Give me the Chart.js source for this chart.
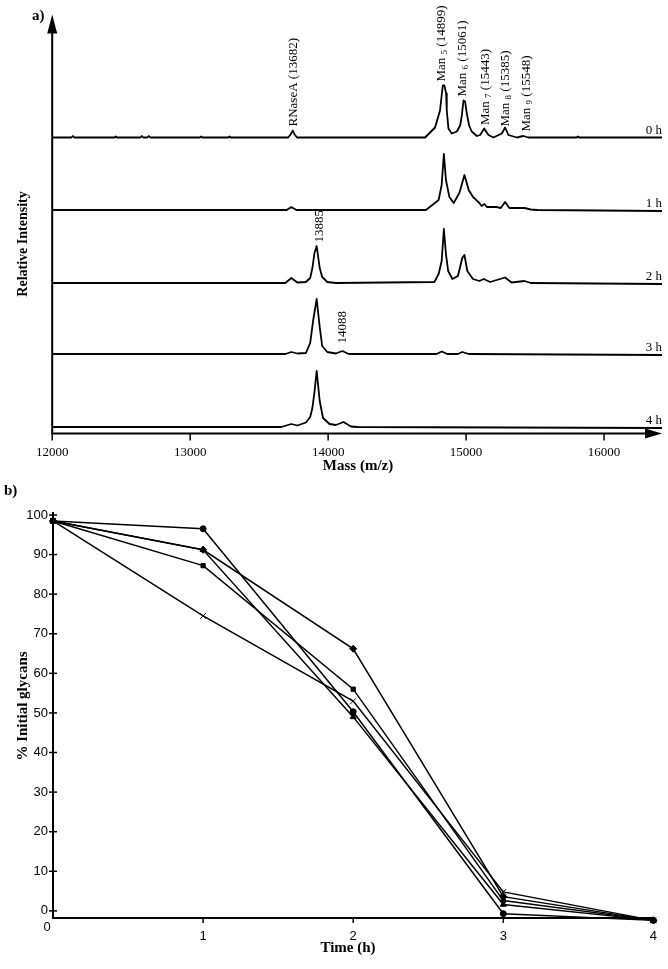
<!DOCTYPE html>
<html>
<head>
<meta charset="utf-8">
<script src="https://cdn.jsdelivr.net/npm/chart.js@4.4.1/dist/chart.umd.min.js"></script>
<style>
  html, body { margin: 0; padding: 0; background: #fff; }
  #wrap { position: relative; width: 668px; height: 969px; }
  #specChart { position: absolute; left: 0; top: 0; }
  #glyChart { position: absolute; left: 0; top: 480px; }
</style>
</head>
<body>
<div id="wrap">
  <canvas id="specChart" width="668" height="480"></canvas>
  <canvas id="glyChart" width="668" height="489"></canvas>
</div>
<script>
var serif = "'Liberation Serif', 'Times New Roman', serif";
var sans = "'Liberation Sans Narrow', 'Liberation Sans', Arial, sans-serif";

// ---- panel a: MALDI spectra, one trace per time point ----
var timeLabels = ["0 h", "1 h", "2 h", "3 h", "4 h"];
var baseOffsets = [296, 223.5, 150.5, 79.5, 6.5]; // stacking of the traces
var massTicks = [12000, 13000, 14000, 15000, 16000];

var mass0h = [12000, 12140, 12150, 12160, 12450, 12460, 12470, 12640, 12650, 12660, 12690, 12700, 12710,
  13070, 13080, 13090, 13275, 13285, 13295, 13710, 13728, 13744, 13757, 13775, 14703, 14775, 14811,
  14831, 14843, 14855, 14860, 14872, 14896, 14933, 14957, 14969, 14981, 14993, 15005, 15022, 15041,
  15078, 15102, 15131, 15162, 15198, 15259, 15283, 15307, 15368, 15415, 15452, 15540, 15800, 15810,
  15820, 16420];
var int0h = [0, 0, 1.5, 0, 0, 1, 0, 0, 1.5, 0, 0, 1.5, 0,
  0, 1, 0, 0, 1, 0, 0, 3, 7, 3, 0, 0, 10, 27,
  52, 52, 44, 27, 9, 4, 6, 12, 22, 37, 36, 24, 12, 6,
  1.5, 2.5, 9, 2.5, 0, 4, 10, 2.5, 0, 1.5, 0, 0, 0, 1,
  0, 0];

var mass1h = [12000, 13700, 13733, 13770, 14709, 14801, 14823, 14839, 14854, 14879, 14910, 14951, 14972,
  14988, 15009, 15019, 15050, 15096, 15112, 15133, 15150, 15174, 15220, 15251, 15283, 15314, 15423,
  15469, 15516, 16420];
var int1h = [0, 0, 3, 0, 0, 10, 25, 56, 30, 13, 7, 17, 27,
  35, 25, 20, 13, 7, 4, 6, 3, 3, 3, 2, 8, 2, 2,
  0.5, 0, -1];

var mass2h = [12000, 13690, 13733, 13777, 13839, 13870, 13886, 13901, 13917, 13939, 13957, 13994, 14056,
  14770, 14801, 14823, 14839, 14854, 14870, 14901, 14941, 14972, 14988, 15009, 15050, 15096, 15128,
  15174, 15283, 15329, 15423, 15469, 16420];
var int2h = [0, 0, 5, 0.5, 1, 5, 15, 30, 37, 15, 6, 1, 0,
  1, 9, 22, 54, 29, 12, 4, 7, 25, 28, 12, 4, 2, 4,
  1, 5.5, 0.5, 2, 0, -1];

var mass3h = [12000, 13690, 13733, 13777, 13839, 13870, 13892, 13917, 13939, 13957, 13994, 14056, 14103,
  14150, 14786, 14823, 14864, 14941, 14972, 15019, 16420];
var int3h = [0, 0, 2, 0.5, 1, 11, 34, 55, 27, 8, 2, 0.5, 3,
  0, 0, 2.5, 0, 0, 2, 0, -1];

var mass4h = [12000, 13661, 13733, 13777, 13839, 13870, 13886, 13901, 13917, 13939, 13963, 14010, 14056,
  14112, 14165, 14212, 16420];
var int4h = [0, 0, 3, 1.5, 4.5, 10, 19, 35, 56, 26, 9, 3, 2,
  5, 0.5, 0, -1];

var traceMasses = [mass0h, mass1h, mass2h, mass3h, mass4h];
var traceInts = [int0h, int1h, int2h, int3h, int4h];

// peak annotations (text pieces alternate normal / subscript)
var peakNotes = [
  { parts: ["RNaseA (13682)"], mass: 13746, y: 307 },
  { parts: ["Man ", "5", " (14899)"], mass: 14822, y: 352 },
  { parts: ["Man ", "6", " (15061)"], mass: 14975, y: 337 },
  { parts: ["Man ", "7", " (15443)"], mass: 15141, y: 308.5 },
  { parts: ["Man ", "8", " (15385)"], mass: 15286, y: 307 },
  { parts: ["Man ", "9", " (15548)"], mass: 15442, y: 302 },
  { parts: ["13885"], mass: 13938, y: 191 },
  { parts: ["14088"], mass: 14103, y: 90 }
];

function rotText(ctx, parts, x, y) {
  ctx.save();
  ctx.translate(x, y);
  ctx.rotate(-Math.PI / 2);
  ctx.textAlign = "left";
  ctx.textBaseline = "middle";
  var cx = 0;
  for (var i = 0; i < parts.length; i++) {
    if (i % 2 == 1) {
      ctx.font = "9px " + serif;
      ctx.fillText(parts[i], cx, 3);
    } else {
      ctx.font = "13px " + serif;
      ctx.fillText(parts[i], cx, 0);
    }
    cx += ctx.measureText(parts[i]).width;
  }
  ctx.restore();
}

var spectraDeco = {
  id: "spectraDeco",
  afterDraw: function (chart) {
    var ctx = chart.ctx;
    var xs = chart.scales.x, ys = chart.scales.y;
    var x0 = xs.getPixelForValue(xs.min);
    var y0 = ys.getPixelForValue(0);
    var top = chart.chartArea.top, right = chart.chartArea.right;
    ctx.save();
    ctx.strokeStyle = "#000";
    ctx.fillStyle = "#000";
    ctx.lineWidth = 2;
    ctx.beginPath();
    ctx.moveTo(x0, y0 + 1);
    ctx.lineTo(x0, top + 15);
    ctx.moveTo(x0 - 1, y0);
    ctx.lineTo(right - 15, y0);
    ctx.stroke();
    // arrow heads
    ctx.beginPath();
    ctx.moveTo(x0, top + 1);
    ctx.lineTo(x0 - 5, top + 20);
    ctx.lineTo(x0 + 5, top + 20);
    ctx.closePath();
    ctx.moveTo(right, y0);
    ctx.lineTo(right - 17, y0 - 5);
    ctx.lineTo(right - 17, y0 + 5);
    ctx.closePath();
    ctx.fill();
    // tick marks
    ctx.lineWidth = 1.5;
    massTicks.forEach(function (m) {
      var px = xs.getPixelForValue(m);
      ctx.beginPath();
      ctx.moveTo(px, y0);
      ctx.lineTo(px, y0 + 7);
      ctx.stroke();
    });
    // peak labels
    peakNotes.forEach(function (n) {
      rotText(ctx, n.parts, xs.getPixelForValue(n.mass), ys.getPixelForValue(n.y));
    });
    // time labels at the right end of each trace
    ctx.font = "13px " + serif;
    ctx.textAlign = "right";
    ctx.textBaseline = "alphabetic";
    timeLabels.forEach(function (t, i) {
      ctx.fillText(t, right, ys.getPixelForValue(baseOffsets[i] + 3.5));
    });
    // titles
    ctx.font = "bold 15px " + serif;
    ctx.textAlign = "left";
    ctx.fillText("a)", 32, 20);
    ctx.textAlign = "center";
    ctx.textBaseline = "middle";
    ctx.fillText("Mass (m/z)", 358, 466);
    ctx.save();
    ctx.translate(23, 244);
    ctx.rotate(-Math.PI / 2);
    ctx.font = "bold 14px " + serif;
    ctx.fillText("Relative Intensity", 0, 0);
    ctx.restore();
    ctx.restore();
  }
};

var specSets = [];
for (var i = 0; i < traceMasses.length; i++) {
  var pts = [];
  for (var j = 0; j < traceMasses[i].length; j++) {
    pts.push({ x: traceMasses[i][j], y: traceInts[i][j] + baseOffsets[i] });
  }
  specSets.push({ label: timeLabels[i], data: pts });
}

new Chart(document.getElementById("specChart"), {
  type: "line",
  data: { datasets: specSets },
  options: {
    responsive: false,
    animation: false,
    devicePixelRatio: 1,
    layout: { padding: { left: 52.2, right: 6, top: 13.5, bottom: 0 } },
    plugins: { legend: { display: false }, tooltip: { enabled: false } },
    elements: {
      point: { radius: 0 },
      line: { borderWidth: 1.8, borderColor: "#000", tension: 0, borderJoinStyle: "round" }
    },
    scales: {
      x: {
        type: "linear",
        min: 12000,
        max: 16420,
        afterBuildTicks: function (s) {
          s.ticks = massTicks.map(function (v) { return { value: v }; });
        },
        afterFit: function (s) { s.height = 46.5; },
        grid: { display: false, drawTicks: false },
        border: { display: false },
        ticks: {
          color: "#000", font: { family: serif, size: 13 }, padding: 11, maxRotation: 0, autoSkip: false,
          callback: function (v) { return String(v); }
        }
      },
      y: { display: false, min: 0, max: 420 }
    }
  },
  plugins: [spectraDeco]
});

// ---- panel b: glycan loss over time ----
var hours = [0, 1, 2, 3, 4];
var hourTicks = [1, 2, 3, 4];
var pctTicks = [0, 10, 20, 30, 40, 50, 60, 70, 80, 90, 100];
var glyCross = [98.5, 74.5, 53.0, 4.8, -2.4];
var glyCircle = [98.5, 96.5, 50.3, -0.7, -2.4];
var glyDiamond = [98.5, 91.2, 66.2, 3.6, -2.4];
var glyTriangle = [98.5, 91.2, 49.0, 1.6, -2.4];
var glySquare = [98.5, 87.2, 56.0, 2.6, -2.4];

// first series is drawn on top
var glySeries = [glyCross, glyCircle, glyDiamond, glyTriangle, glySquare];
var glyMarks = ["crossRot", "circle", "rectRot", "triangle", "rect"];
var glyRadius = [4, 3, 3.5, 3.5, 3];

var glycanDeco = {
  id: "glycanDeco",
  afterDraw: function (chart) {
    var ctx = chart.ctx;
    var xs = chart.scales.x, ys = chart.scales.y;
    var ax = xs.getPixelForValue(0);
    var ay = ys.getPixelForValue(ys.min);
    ctx.save();
    ctx.strokeStyle = "#000";
    ctx.fillStyle = "#000";
    ctx.lineWidth = 1.5;
    pctTicks.forEach(function (v) {
      var py = ys.getPixelForValue(v);
      ctx.beginPath();
      ctx.moveTo(ax - 4, py);
      ctx.lineTo(ax + 4, py);
      ctx.stroke();
    });
    hourTicks.forEach(function (h) {
      var px = xs.getPixelForValue(h);
      ctx.beginPath();
      ctx.moveTo(px, ay);
      ctx.lineTo(px, ay + 5);
      ctx.stroke();
    });
    ctx.font = "13px " + sans;
    ctx.textAlign = "center";
    ctx.textBaseline = "middle";
    ctx.fillText("0", ax - 6, ay + 9);
    ctx.font = "bold 15px " + serif;
    ctx.fillText("Time (h)", 348, 468);
    ctx.save();
    ctx.translate(23, 226);
    ctx.rotate(-Math.PI / 2);
    ctx.fillText("% Initial glycans", 0, 0);
    ctx.restore();
    ctx.textAlign = "left";
    ctx.textBaseline = "alphabetic";
    ctx.fillText("b)", 4, 15);
    ctx.restore();
  }
};

var glySets = glySeries.map(function (s, i) {
  return {
    data: hours.map(function (h, k) { return { x: h, y: s[k] }; }),
    pointStyle: glyMarks[i],
    pointRadius: glyRadius[i],
    pointBackgroundColor: "#000",
    pointBorderColor: "#000",
    pointBorderWidth: 1,
    borderColor: "#000",
    borderWidth: 1.5,
    clip: false
  };
});

new Chart(document.getElementById("glyChart"), {
  type: "line",
  data: { datasets: glySets },
  options: {
    responsive: false,
    animation: false,
    devicePixelRatio: 1,
    layout: { padding: { left: 0, right: 14, top: 33, bottom: 0 } },
    plugins: { legend: { display: false }, tooltip: { enabled: false } },
    elements: { line: { tension: 0 } },
    scales: {
      x: {
        type: "linear",
        min: 0,
        max: 4,
        afterBuildTicks: function (s) {
          s.ticks = hourTicks.map(function (v) { return { value: v }; });
        },
        afterFit: function (s) { s.height = 51; },
        grid: { display: false, drawTicks: false },
        border: { display: true, color: "#000", width: 2 },
        ticks: { color: "#000", font: { family: sans, size: 13 }, padding: 11, maxRotation: 0, autoSkip: false }
      },
      y: {
        min: -1.8,
        max: 100.5,
        afterBuildTicks: function (s) {
          s.ticks = pctTicks.map(function (v) { return { value: v }; });
        },
        afterFit: function (s) { s.width = 53; },
        grid: { display: false, drawTicks: false },
        border: { display: true, color: "#000", width: 2 },
        ticks: { color: "#000", font: { family: sans, size: 13 }, padding: 5 }
      }
    }
  },
  plugins: [glycanDeco]
});
</script>
</body>
</html>
